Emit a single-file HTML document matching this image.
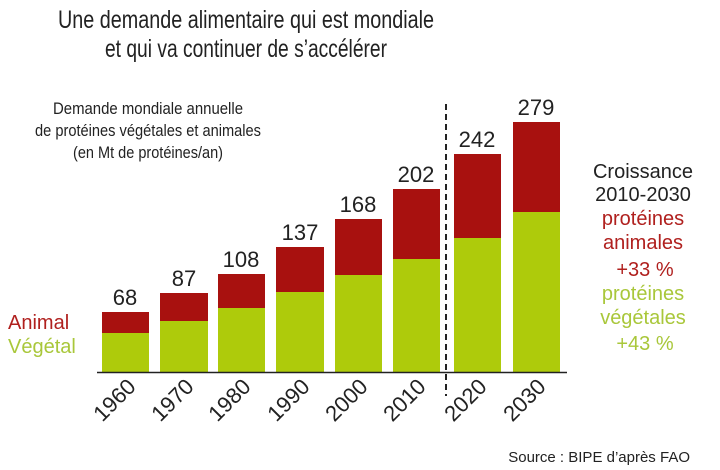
<!DOCTYPE html>
<html><head><meta charset="utf-8"><style>
html,body{margin:0;padding:0;background:#fff;}
svg{display:block;font-family:"Liberation Sans",sans-serif;}
</style></head><body>
<svg width="720" height="470" viewBox="0 0 720 470">
<rect width="720" height="470" fill="#fff"/>
<g fill="#222" text-anchor="middle">
<text x="246" y="28" font-size="25" textLength="376" lengthAdjust="spacingAndGlyphs">Une demande alimentaire qui est mondiale</text>
<text x="246" y="57" font-size="25" textLength="282" lengthAdjust="spacingAndGlyphs">et qui va continuer de s’accélérer</text>
<text x="148" y="114" font-size="17" textLength="190" lengthAdjust="spacingAndGlyphs">Demande mondiale annuelle</text>
<text x="148" y="136" font-size="17" textLength="226" lengthAdjust="spacingAndGlyphs">de protéines végétales et animales</text>
<text x="148" y="158" font-size="17" textLength="150" lengthAdjust="spacingAndGlyphs">(en Mt de protéines/an)</text>
</g>
<g>
<rect x="102" y="312" width="47" height="21" fill="#a8110f"/><rect x="102" y="333" width="47" height="39" fill="#aecb0b"/>
<rect x="160" y="293" width="48" height="28" fill="#a8110f"/><rect x="160" y="321" width="48" height="51" fill="#aecb0b"/>
<rect x="218" y="274" width="47" height="34" fill="#a8110f"/><rect x="218" y="308" width="47" height="64" fill="#aecb0b"/>
<rect x="276" y="247" width="48" height="45" fill="#a8110f"/><rect x="276" y="292" width="48" height="80" fill="#aecb0b"/>
<rect x="335" y="219" width="47" height="56" fill="#a8110f"/><rect x="335" y="275" width="47" height="97" fill="#aecb0b"/>
<rect x="393" y="189" width="47" height="70" fill="#a8110f"/><rect x="393" y="259" width="47" height="113" fill="#aecb0b"/>
<rect x="454" y="154" width="47" height="84" fill="#a8110f"/><rect x="454" y="238" width="47" height="134" fill="#aecb0b"/>
<rect x="513" y="122" width="47" height="90" fill="#a8110f"/><rect x="513" y="212" width="47" height="160" fill="#aecb0b"/>
</g>
<line x1="97" y1="372.5" x2="567" y2="372.5" stroke="#222" stroke-width="1.5"/>
<line x1="446" y1="104" x2="446" y2="396" stroke="#222" stroke-width="2" stroke-dasharray="6,4"/>
<g fill="#222" font-size="22" text-anchor="middle">
<text x="125" y="305">68</text><text x="184" y="286">87</text><text x="241" y="267">108</text>
<text x="300" y="240">137</text><text x="358" y="212">168</text><text x="416" y="182">202</text>
<text x="477" y="147">242</text><text x="536" y="115">279</text>
</g>
<g fill="#222" font-size="22" text-anchor="end">
<text transform="translate(137,388) rotate(-45)">1960</text>
<text transform="translate(195,388) rotate(-45)">1970</text>
<text transform="translate(252,388) rotate(-45)">1980</text>
<text transform="translate(311,388) rotate(-45)">1990</text>
<text transform="translate(369,388) rotate(-45)">2000</text>
<text transform="translate(427,388) rotate(-45)">2010</text>
<text transform="translate(488,388) rotate(-45)">2020</text>
<text transform="translate(547,388) rotate(-45)">2030</text>
</g>
<g font-size="20">
<text x="8" y="329" fill="#b0201e">Animal</text>
<text x="8" y="353" fill="#a9c73a">Végétal</text>
</g>
<g font-size="20" text-anchor="middle">
<text x="643" y="178" fill="#222">Croissance</text>
<text x="643" y="201" fill="#222">2010-2030</text>
<text x="643" y="225" fill="#b0201e">protéines</text>
<text x="643" y="249" fill="#b0201e">animales</text>
<text x="645" y="276" fill="#b0201e">+33 %</text>
<text x="643" y="300" fill="#a9c73a">protéines</text>
<text x="643" y="324" fill="#a9c73a">végétales</text>
<text x="645" y="350" fill="#a9c73a">+43 %</text>
</g>
<text x="690" y="462" font-size="15" fill="#222" text-anchor="end">Source : BIPE d’après FAO</text>
</svg>
</body></html>
